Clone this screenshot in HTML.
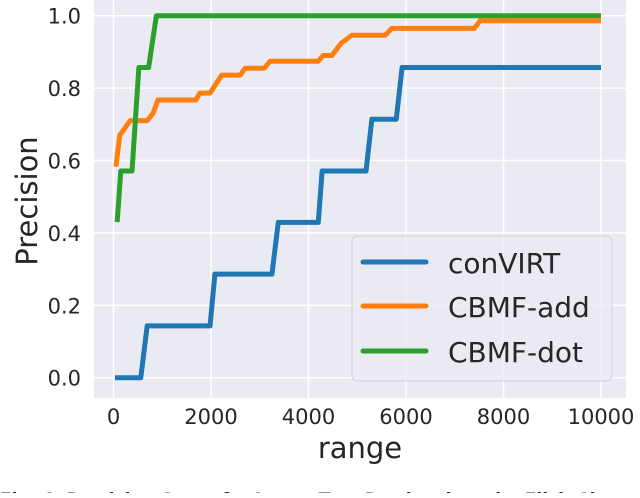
<!DOCTYPE html>
<html><head><meta charset="utf-8"><style>
body{margin:0;background:#fff;}
svg text{font-family:"DejaVu Sans","Liberation Sans",sans-serif;fill:#262626;}
</style></head><body>
<svg width="640" height="493" viewBox="0 0 640 493" xmlns="http://www.w3.org/2000/svg">
<rect x="94" y="0" width="532" height="398" fill="#eaeaf2"/>
<g id="grid"></g>
<g id="ticks"></g>
<g id="series"></g>
<text x="0" y="0" font-size="29" text-anchor="middle" transform="translate(37 201) rotate(-90)">Precision</text>
<text x="360" y="458" font-size="29" text-anchor="middle">range</text>
<g>
<rect x="352" y="236" width="260" height="145" rx="5" fill="#eaeaf2" fill-opacity="0.8" stroke="#d0d0d8"/>
<g><line x1="363" y1="262" x2="426" y2="262" stroke="#1f77b4" stroke-width="5" stroke-linecap="round"/><text x="448" y="273" font-size="28">conVIRT</text></g>
<g><line x1="363" y1="306" x2="426" y2="306" stroke="#ff7f0e" stroke-width="5" stroke-linecap="round"/><text x="448" y="317" font-size="28">CBMF-add</text></g>
<g><line x1="363" y1="351" x2="426" y2="351" stroke="#2ca02c" stroke-width="5" stroke-linecap="round"/><text x="448" y="362" font-size="28">CBMF-dot</text></g>
</g>
<text x="0" y="505" font-size="17" font-family="Liberation Serif,serif" font-weight="bold">Fig. 4. Precision Curve for Image-Text Retrieval on the Flickr8k</text>
</svg>
<script>
const xTicks=[0,2000,4000,6000,8000,10000];
const yTicks=[0.0,0.2,0.4,0.6,0.8,1.0];
const yTickLabels=["0.0","0.2","0.4","0.6","0.8","1.0"];
const convirtX=[30,560,690,1980,2080,3250,3380,4200,4280,5180,5300,5800,5920,10000];
const convirtY=[0,0,0.143,0.143,0.286,0.286,0.429,0.429,0.571,0.571,0.714,0.714,0.857,0.857];
const addX=[50,130,340,690,810,910,1690,1770,1980,2220,2600,2700,3090,3210,4200,4300,4480,4670,4890,5570,5710,7400,7520,10000];
const addY=[0.583,0.67,0.71,0.71,0.73,0.767,0.767,0.786,0.786,0.836,0.836,0.855,0.855,0.874,0.874,0.89,0.89,0.924,0.946,0.946,0.965,0.965,0.986,0.986];
const dotX=[75,150,380,520,720,880,10000];
const dotY=[0.43,0.571,0.571,0.857,0.857,1.0,1.0];
const sx=v=>113.5+v*0.04875;
const sy=p=>377.7-p*362;
const NS="http://www.w3.org/2000/svg";
const grid=document.getElementById('grid'),ticks=document.getElementById('ticks'),ser=document.getElementById('series');
xTicks.forEach(v=>{
 const l=document.createElementNS(NS,'line');
 l.setAttribute('x1',sx(v));l.setAttribute('x2',sx(v));l.setAttribute('y1',0);l.setAttribute('y2',398);
 l.setAttribute('stroke','#fff');l.setAttribute('stroke-width','1.5');
 
 
 grid.appendChild(l);
 const t=document.createElementNS(NS,'text');
 t.setAttribute('x',sx(v));t.setAttribute('y',424);t.setAttribute('font-size','21');t.setAttribute('text-anchor','middle');
 t.textContent=String(v);
 
 
 ticks.appendChild(t);
});
yTicks.forEach((v,i)=>{
 const l=document.createElementNS(NS,'line');
 l.setAttribute('x1',94);l.setAttribute('x2',626);l.setAttribute('y1',sy(v));l.setAttribute('y2',sy(v));
 l.setAttribute('stroke','#fff');l.setAttribute('stroke-width','1.5');
 
 
 grid.appendChild(l);
 const t=document.createElementNS(NS,'text');
 t.setAttribute('x',81);t.setAttribute('y',sy(v)+8);t.setAttribute('font-size','21');t.setAttribute('text-anchor','end');
 t.textContent=yTickLabels[i];
 
 
 ticks.appendChild(t);
});
function line(xs,ys,color,name){
 const p=document.createElementNS(NS,'polyline');
 p.setAttribute('points',xs.map((x,i)=>sx(x)+','+sy(ys[i])).join(' '));
 p.setAttribute('fill','none');p.setAttribute('stroke',color);p.setAttribute('stroke-width','5');
 p.setAttribute('stroke-linejoin','round');
 
 
 ser.appendChild(p);
}
line(convirtX,convirtY,'#1f77b4','convirt-line');
line(addX,addY,'#ff7f0e','cbmf-add-line');
line(dotX,dotY,'#2ca02c','cbmf-dot-line');
</script>
</body></html>
